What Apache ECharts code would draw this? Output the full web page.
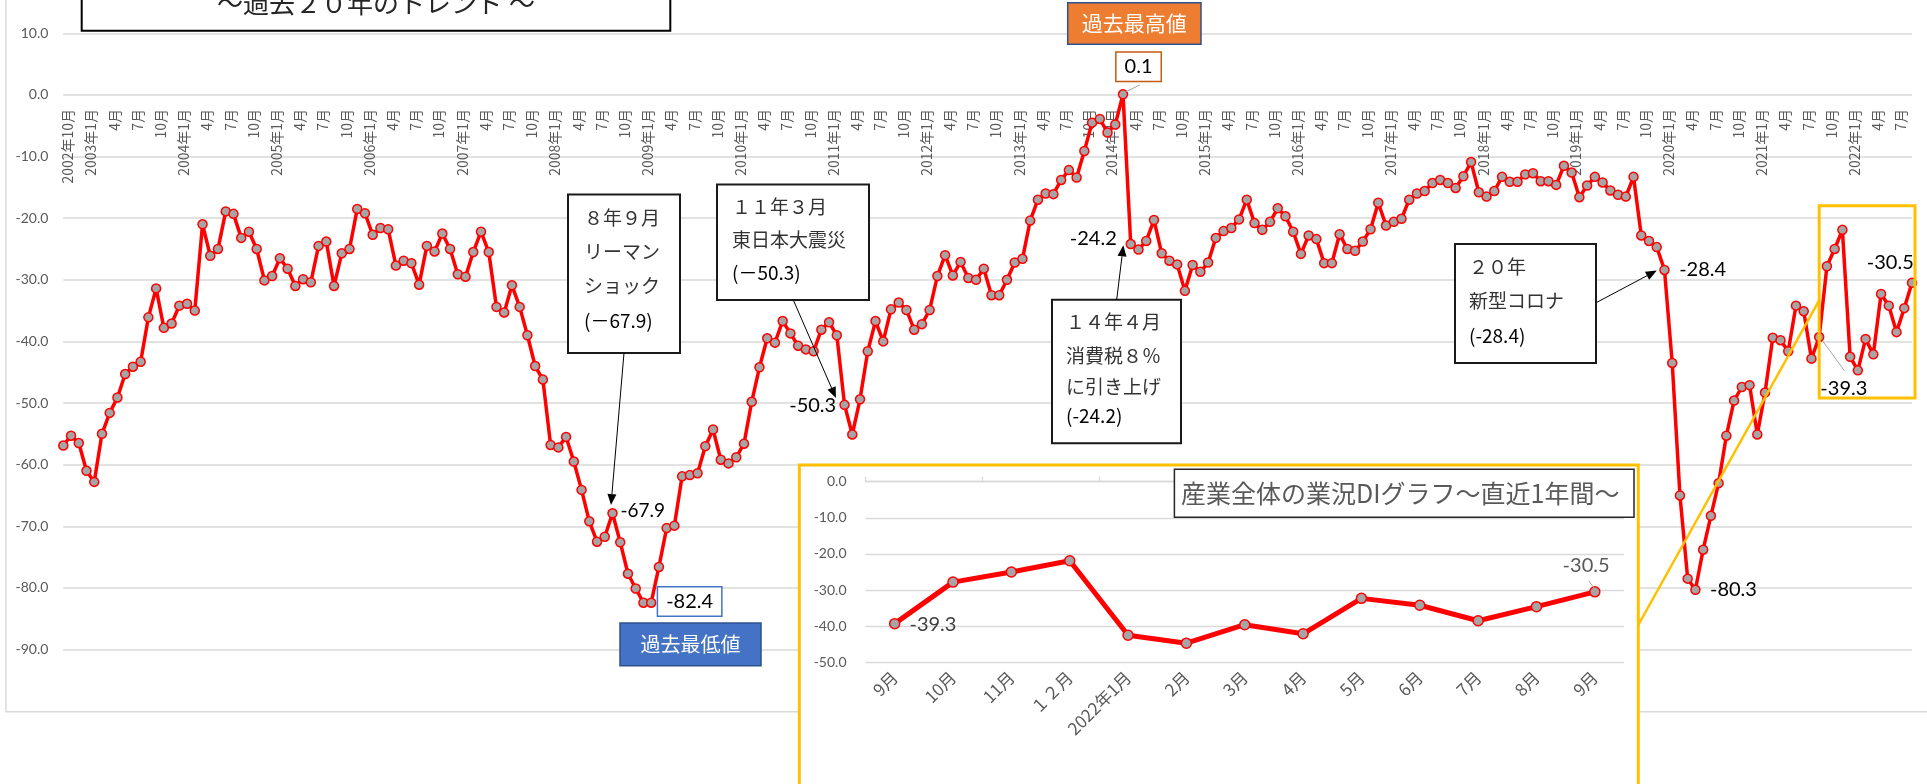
<!DOCTYPE html>
<html><head><meta charset="utf-8">
<script src="https://cdn.jsdelivr.net/npm/echarts@6/dist/echarts.min.js"></script>
<style>html,body{margin:0;padding:0;background:#fff}#c{width:1927px;height:784px}</style>
</head><body><div id="c"></div>
<script>
// 産業全体の業況DI (monthly, 2002年10月 – 2022年9月)
const di2002 = [-56.9, -55.3, -56.5];
const di2003 = [-61.0, -62.8, -55.0, -51.6, -49.1, -45.3, -44.1, -43.3, -36.1, -31.4, -37.8, -37.1];
const di2004 = [-34.2, -33.9, -35.0, -21.0, -26.1, -25.0, -18.9, -19.3, -23.2, -22.2, -25.0, -30.1];
const di2005 = [-29.4, -26.5, -28.2, -31.0, -29.9, -30.4, -24.5, -23.8, -31.0, -25.7, -25.0, -18.5];
const di2006 = [-19.2, -22.7, -21.6, -21.8, -27.7, -26.9, -27.3, -30.8, -24.5, -25.4, -22.5, -25.0];
const di2007 = [-29.1, -29.5, -25.5, -22.2, -25.5, -34.4, -35.3, -30.9, -34.4, -39.0, -44.0, -46.2];
const di2008 = [-56.8, -57.2, -55.5, -59.5, -64.1, -69.2, -72.5, -71.7, -67.9, -72.6, -77.7, -80.1];
const di2009 = [-82.4, -82.4, -76.6, -70.3, -69.9, -61.9, -61.7, -61.4, -57.0, -54.3, -59.2, -59.8];
const di2010 = [-58.8, -56.6, -49.8, -44.2, -39.5, -40.2, -36.7, -38.7, -40.7, -41.3, -41.6, -38.1];
const di2011 = [-36.9, -39.0, -50.3, -55.1, -49.4, -41.6, -36.7, -40.0, -34.8, -33.7, -34.9, -38.1];
const di2012 = [-37.2, -34.9, -29.4, -26.0, -29.3, -27.1, -29.7, -30.0, -28.2, -32.5, -32.5, -30.0];
const di2013 = [-27.2, -26.6, -20.4, -17.0, -16.0, -16.1, -13.8, -12.2, -13.4, -9.1, -4.5, -3.9];
const di2014 = [-6.1, -4.8, 0.1, -24.2, -25.1, -23.7, -20.3, -25.7, -26.9, -27.5, -31.8, -27.6];
const di2015 = [-28.7, -27.2, -23.2, -22.1, -21.6, -20.2, -17.0, -20.8, -21.9, -20.6, -18.4, -19.7];
const di2016 = [-22.2, -25.8, -22.8, -23.4, -27.3, -27.3, -22.6, -25.0, -25.3, -23.8, -21.8, -17.5];
const di2017 = [-21.2, -20.6, -20.1, -17.0, -16.0, -15.6, -14.3, -13.8, -14.3, -15.1, -13.2, -10.9];
const di2018 = [-15.8, -16.5, -15.6, -13.3, -14.1, -14.1, -12.9, -12.7, -14.0, -14.0, -14.6, -11.5];
const di2019 = [-12.6, -16.6, -14.7, -13.3, -14.2, -15.5, -16.2, -16.5, -13.3, -22.8, -23.7, -24.7];
const di2020 = [-28.4, -43.5, -65.0, -78.5, -80.3, -73.8, -68.3, -63.0, -55.3, -49.6, -47.4, -47.1];
const di2021 = [-55.1, -48.3, -39.4, -39.8, -41.6, -34.2, -35.1, -42.8, -39.3, -27.8, -25.0, -21.9];
const di2022 = [-42.5, -44.7, -39.6, -42.1, -32.3, -34.2, -38.5, -34.6, -30.5];

const yearlyDI = [di2002, di2003, di2004, di2005, di2006, di2007, di2008, di2009, di2010, di2011,
  di2012, di2013, di2014, di2015, di2016, di2017, di2018, di2019, di2020, di2021, di2022];
const mainDI = [].concat(...yearlyDI);

// category labels: 2002年10月, 11月, ... (年 shown for 1月 and the first month)
const monthLabels = [];
for (let i = 0; i < mainDI.length; i++) {
  const m = (i + 9) % 12 + 1;
  const y = 2002 + Math.floor((i + 9) / 12);
  monthLabels.push(i === 0 || m === 1 ? y + '年' + m + '月' : m + '月');
}

// 直近1年間
const recentLabels = ['9月', '10月', '11月', '１２月', '2022年1月', '2月', '3月', '4月', '5月', '6月', '7月', '8月', '9月'];
const recentDI = [-39.3, -27.8, -25.0, -21.9, -42.5, -44.7, -39.6, -42.1, -32.3, -34.2, -38.5, -34.6, -30.5];

const NUM = "Lato, 'Noto Sans CJK JP', sans-serif";
const JP = "'Noto Sans CJK JP', sans-serif";

// data-label styling for selected points (index -> style)
const mainLabelCfg = {
  71: { position: [35.5, 3.2], fontSize: 19 },
  76: { position: [43.7, 4.1], backgroundColor: '#fff', borderColor: '#4472C4', borderWidth: 1.5, padding: [4, 8] },
  101: { position: [-26.6, 5.7] },
  137: { position: [20.8, -22.4], backgroundColor: '#fff', borderColor: '#C55A11', borderWidth: 1.5, padding: [4, 8] },
  138: { position: [-32.2, -0.5] },
  207: { position: [43.4, 5.1] },
  211: { position: [43.3, 4.9] },
  227: { position: [29.9, 56.5] },
  239: { position: [-16.5, -14.7] }
};
const recentLabelCfg = {
  0: { position: [44, 7], color: '#404040' },
  12: { position: [-3, -21], color: '#595959' }
};

function withLabels(values, cfg) {
  return values.map((v, i) => cfg[i] ? {
    value: v,
    label: Object.assign({
      show: true, align: 'center', verticalAlign: 'middle', color: '#000',
      fontSize: 20, fontFamily: NUM, formatter: p => Number(p.value).toFixed(1)
    }, cfg[i])
  } : v);
}

const chart = echarts.init(document.getElementById('c'), null, { width: 1927, height: 784 });

const option = {
  animation: false,
  backgroundColor: '#fff',
  textStyle: { fontFamily: JP },
  grid: [
    { left: 63.3, right: 15, top: 33.3, height: 616.2 },
    { left: 865.5, right: 303, top: 481.7, height: 180.6 },
    // thin strip whose bottom edge sits on the 0.0 line: carries the month labels
    { left: 67.8, right: 10.5, top: 94, height: 1 }
  ],
  xAxis: [
    {
      gridIndex: 0, type: 'category', data: monthLabels, boundaryGap: false, z: 0,
      axisLine: { show: false }, axisTick: { show: false },
      axisLabel: { show: false }, splitLine: { show: false }
    },
    {
      gridIndex: 1, type: 'category', data: recentLabels, boundaryGap: true, position: 'bottom', z: 3,
      axisLine: { show: false, onZero: false }, axisTick: { show: false },
      axisLabel: { interval: 0, rotate: 45, color: '#595959', fontSize: 17, margin: 12, fontFamily: JP },
      splitLine: { show: false }
    },
    {
      gridIndex: 1, type: 'category', data: recentLabels, boundaryGap: true, position: 'top', z: 3,
      axisLine: { show: true, onZero: false, lineStyle: { color: '#D9D9D9', width: 1.3 } },
      axisTick: { show: true, length: 5, lineStyle: { color: '#D9D9D9', width: 1.3 } },
      axisLabel: { show: false }, splitLine: { show: false }
    },
    {
      gridIndex: 2, type: 'category', data: monthLabels, boundaryGap: false, position: 'bottom', z: 0,
      axisLine: { show: false, onZero: false }, axisTick: { show: false },
      axisLabel: { interval: 2, rotate: 90, color: '#595959', fontSize: 14, margin: 14, fontFamily: JP },
      splitLine: { show: false }
    }
  ],
  yAxis: [
    {
      gridIndex: 0, type: 'value', min: -90, max: 10, interval: 10, z: 0,
      axisLine: { show: false }, axisTick: { show: false },
      axisLabel: { formatter: v => v.toFixed(1), color: '#595959', fontSize: 14, margin: 15, fontFamily: NUM },
      splitLine: { lineStyle: { color: '#D9D9D9', width: 1.5 } }
    },
    {
      gridIndex: 1, type: 'value', min: -50, max: 0, interval: 10, z: 3,
      axisLine: { show: false }, axisTick: { show: false },
      axisLabel: { formatter: v => v.toFixed(1), color: '#595959', fontSize: 14, margin: 19, fontFamily: NUM },
      splitLine: { lineStyle: { color: '#D9D9D9', width: 1.3 } }
    },
    {
      gridIndex: 2, type: 'value', min: 0, max: 1, show: false
    }
  ],
  series: [
    {
      type: 'line', xAxisIndex: 0, yAxisIndex: 0, z: 2,
      data: withLabels(mainDI, mainLabelCfg),
      symbol: 'circle', symbolSize: 9, showAllSymbol: true,
      lineStyle: { color: '#FF0000', width: 3.5 },
      itemStyle: { color: '#A5A5A5', borderColor: '#FF0000', borderWidth: 1.5 },
      label: { show: false },
      emphasis: { disabled: true }
    },
    {
      type: 'line', xAxisIndex: 1, yAxisIndex: 1, z: 4,
      data: withLabels(recentDI, recentLabelCfg),
      symbol: 'circle', symbolSize: 10,
      lineStyle: { color: '#FF0000', width: 5 },
      itemStyle: { color: '#A5A5A5', borderColor: '#FF0000', borderWidth: 1.5 },
      label: { show: false },
      emphasis: { disabled: true }
    }
  ]
};
chart.setOption(option);

// ---------- annotations ----------
const px = (idx, v) => chart.convertToPixel({ gridIndex: 0 }, [idx, v]);
const pxr = (idx, v) => chart.convertToPixel({ gridIndex: 1 }, [idx, v]);
const G = [];
const text = (t, x, y, size, color, opts) => G.push(Object.assign({
  type: 'text', x: x, y: y, z: 12, silent: true,
  style: Object.assign({ text: t, fontSize: size, fontFamily: JP, fill: color, align: 'left', verticalAlign: 'middle' }, opts || {})
}));
const rect = (x, y, w, h, fill, stroke, lw, z) => G.push({
  type: 'rect', z: z, silent: true, shape: { x: x, y: y, width: w, height: h },
  style: { fill: fill, stroke: stroke, lineWidth: lw }
});
const line = (a, b, color, lw, z) => G.push({
  type: 'line', z: z, silent: true, shape: { x1: a[0], y1: a[1], x2: b[0], y2: b[1] },
  style: { stroke: color, lineWidth: lw }
});
function arrow(from, tip) {
  const dx = tip[0] - from[0], dy = tip[1] - from[1];
  const L = Math.hypot(dx, dy), ux = dx / L, uy = dy / L;
  const bx = tip[0] - ux * 11, by = tip[1] - uy * 11;
  line(from, [bx, by], '#000', 1, 11);
  G.push({
    type: 'polygon', z: 11, silent: true,
    shape: { points: [tip, [bx - uy * 4.5, by + ux * 4.5], [bx + uy * 4.5, by - ux * 4.5]] },
    style: { fill: '#000' }
  });
}

// chart area frame
rect(6, -10, 1940, 721.7, 'none', '#D9D9D9', 1.5, 0);
// inset panel (covers main gridlines)
rect(799.3, 465, 839, 340, '#fff', '#FFC000', 3, 1);
// inset title
rect(1174.4, 469.3, 459.6, 48, '#fff', '#262626', 1.5, 6);
text('産業全体の業況DIグラフ〜直近1年間〜', 1181, 493.5, 25, '#595959');

// main title box (top, cut by the frame)
rect(81.7, -6, 588.6, 36.7, '#fff', '#000', 2, 10);
text('〜過去２０年のトレンド 〜', 376, 3, 26, '#262626', { align: 'center' });

// 過去最高値 / 過去最低値
rect(1067.7, 2.7, 133.3, 41.6, '#ED7D31', '#2F528F', 1.5, 10);
text('過去最高値', 1134.3, 23.5, 21, '#fff', { align: 'center' });
rect(620, 623, 141, 42.7, '#4472C4', '#2F528F', 1.5, 10);
text('過去最低値', 690.5, 644.4, 20, '#fff', { align: 'center' });

// leader lines for data labels
const p137 = px(137, 0.1);
line([p137[0] + 2, p137[1] - 2], [p137[0] + 17, p137[1] - 9.5], '#A6A6A6', 1, 10);
const p227 = px(227, -39.3);
line([p227[0] + 3.6, p227[1] + 4], [p227[0] + 25.2, p227[1] + 33.6], '#A6A6A6', 1, 10);
const r12 = pxr(12, -30.5);
line([r12[0] - 6, r12[1] - 11], [r12[0] - 1, r12[1] - 4], '#A6A6A6', 1, 10);

// callouts
const callouts = [
  { box: [568, 194.6, 112, 158.4], x: 584, lines: [['８年９月', 217.9], ['リーマン', 251.8], ['ショック', 285.4], ['(－67.9)', 320.4, '#000']],
    from: [624, 353], idx: 71, tipOff: [-1.5, -8.3] },
  { box: [717, 184.6, 152, 115.4], x: 732, lines: [['１１年３月', 207.1], ['東日本大震災', 239.3], ['(－50.3)', 272.9, '#000']],
    from: [793.3, 300], idx: 101, tipOff: [-8.6, -6.8] },
  { box: [1052, 299.7, 129, 143.6], x: 1066, lines: [['１４年４月', 322], ['消費税８％', 355.5], ['に引き上げ', 386.5], ['(-24.2)', 415.7, '#000']],
    from: [1116.7, 299.7], idx: 138, tipOff: [-7.4, 1.3] },
  { box: [1455, 244, 141, 119], x: 1469, lines: [['２０年', 266.5], ['新型コロナ', 300.4], ['(-28.4)', 336, '#000']],
    from: [1596.7, 302.4], idx: 207, tipOff: [-7.7, 0.6] }
];
callouts.forEach(c => {
  rect(c.box[0], c.box[1], c.box[2], c.box[3], '#fff', '#1a1a1a', 2, 10);
  c.lines.forEach(l => text(l[0], c.x, l[1], 19, l[2] || '#333'));
  const p = px(c.idx, mainDI[c.idx]);
  arrow(c.from, [p[0] + c.tipOff[0], p[1] + c.tipOff[1]]);
});

// highlight of the last 13 months + connector to inset
const h0 = px(227, -18), h1 = px(239, -49.2);
rect(h0[0], h0[1], h1[0] + 3 - h0[0], h1[1] - h0[1], 'none', '#FFC000', 3, 10);
line([1638.3, 625], [h0[0], 300.4], '#FFC000', 2.5, 9);

chart.setOption({ graphic: { elements: G } });
</script>
</body></html>
